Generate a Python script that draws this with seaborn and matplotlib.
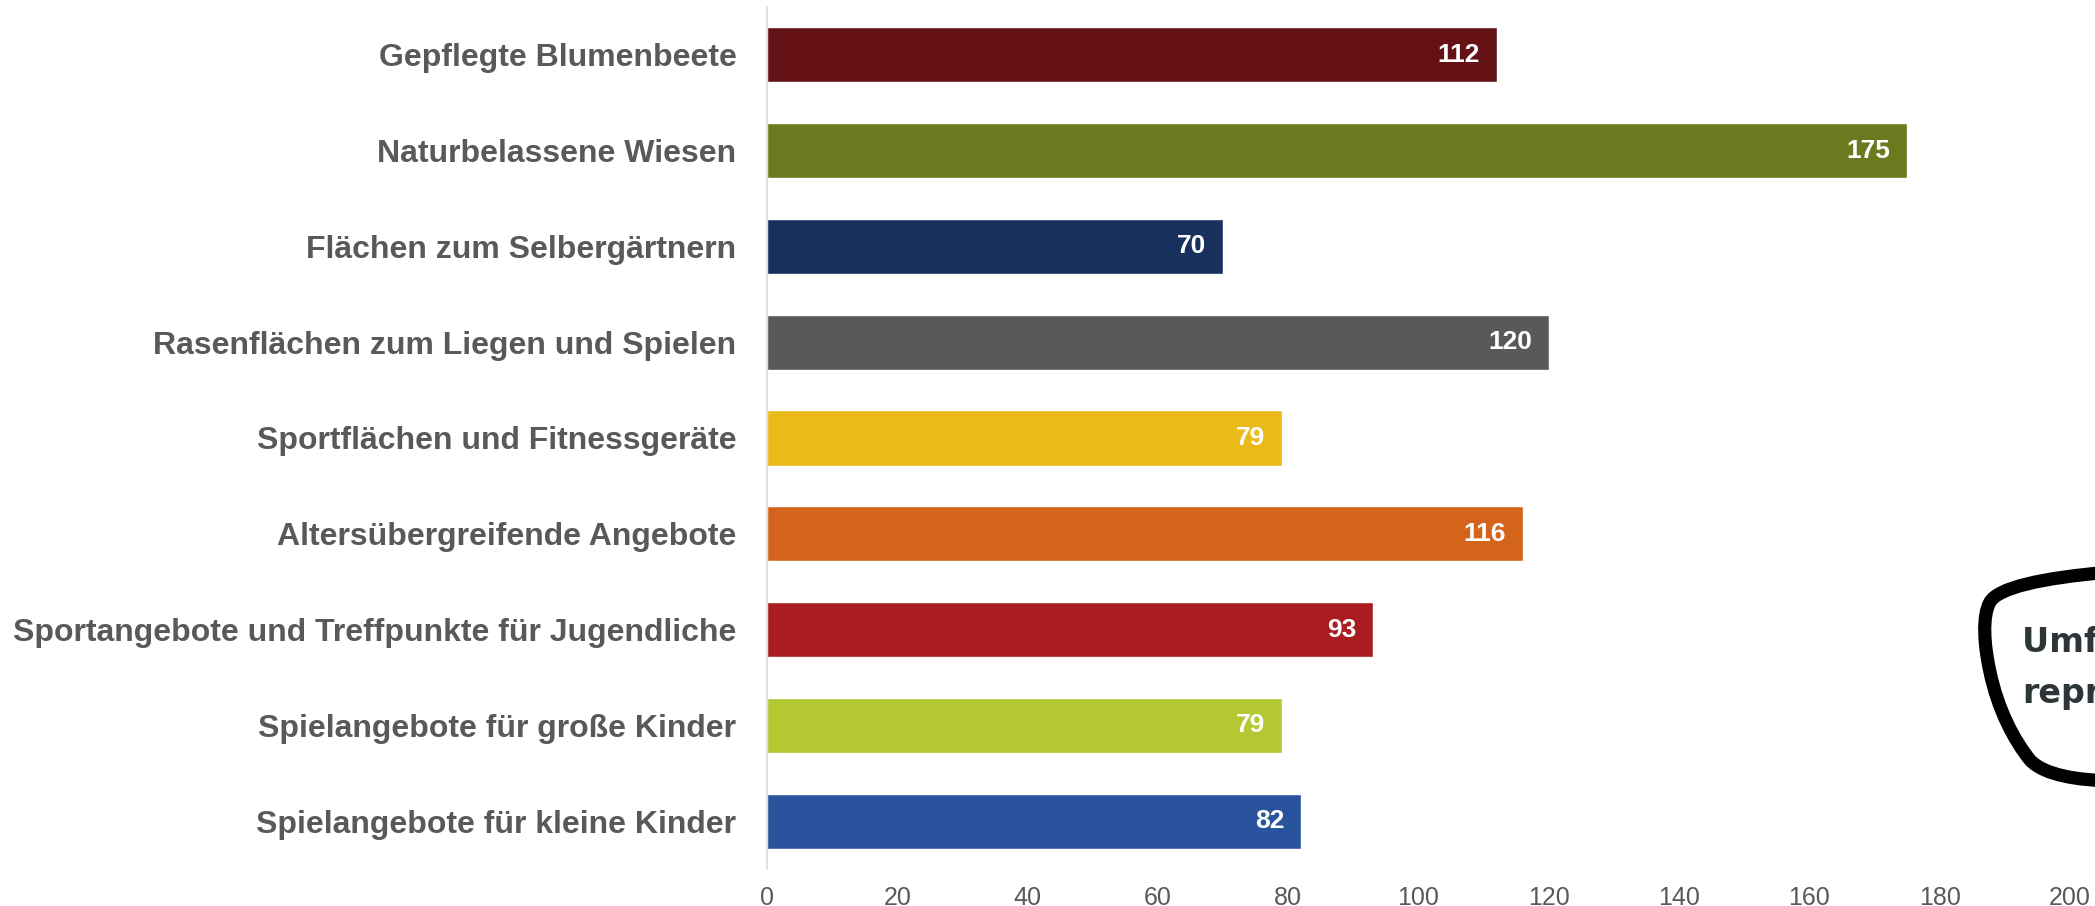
import matplotlib
matplotlib.use("Agg")
import matplotlib.pyplot as plt
from matplotlib.path import Path
from matplotlib.patches import PathPatch
import seaborn as sns
import pandas as pd

categories = [
    "Gepflegte Blumenbeete",
    "Naturbelassene Wiesen",
    "Flächen zum Selbergärtnern",
    "Rasenflächen zum Liegen und Spielen",
    "Sportflächen und Fitnessgeräte",
    "Altersübergreifende Angebote",
    "Sportangebote und Treffpunkte für Jugendliche",
    "Spielangebote für große Kinder",
    "Spielangebote für kleine Kinder",
]
values = [112, 175, 70, 120, 79, 116, 93, 79, 82]
colors = [
    "#651216", "#6b7a1f", "#17305e", "#595959", "#ebb91a",
    "#d4631c", "#a91c22", "#b3c831", "#29539c",
]
x_ticks = [0, 20, 40, 60, 80, 100, 120, 140, 160, 180, 200]

sns.set_theme(style="white")
plt.rcParams["font.family"] = ["Liberation Sans", "DejaVu Sans"]

df = pd.DataFrame({"Kategorie": categories, "Anzahl": values})

W, H = 2095, 906
fig = plt.figure(figsize=(W / 100, H / 100), dpi=100)
ax = fig.add_axes([767 / W, 1 - 869 / H, (2070 - 767) / W, (869 - 7) / H])

sns.barplot(data=df, x="Anzahl", y="Kategorie", hue="Kategorie",
            palette=colors, legend=False, width=0.575, saturation=1,
            orient="h", ax=ax)

for i, v in enumerate(values):
    ax.annotate(str(v), (v, i), xytext=(-12, 0), textcoords="offset points",
                ha="right", va="center", color="white",
                fontsize=19, fontweight="bold")

ax.set_xlim(0, 200)
ax.set_xticks(x_ticks)
ax.set_xticklabels([str(t) for t in x_ticks])
ax.set_ylim(len(categories) - 0.5, -0.5)
ax.set_xlabel("")
ax.set_ylabel("")
for side in ("top", "right", "bottom"):
    ax.spines[side].set_visible(False)
ax.spines["left"].set_color("#d9d9d9")
ax.spines["left"].set_linewidth(1.2)
ax.tick_params(axis="both", length=0)
ax.tick_params(axis="x", labelsize=18, labelcolor="#595959", pad=12)
ax.tick_params(axis="y", labelsize=23, labelcolor="#595959", pad=22)
for lbl in ax.get_yticklabels():
    lbl.set_fontweight("bold")
ax.grid(False)

# speech bubble running off the right edge
def px(x, y):
    return (x / W, 1 - y / H)

verts = [
    px(2110, 572),
    px(2040, 578), px(1998, 588), px(1990, 602),
    px(1982, 616), px(1984, 645), px(1990, 672),
    px(1998, 710), px(2014, 740), px(2030, 760),
    px(2045, 776), px(2080, 780), px(2110, 781),
]
codes = [Path.MOVETO] + [Path.CURVE4] * 12
bubble = PathPatch(Path(verts, codes), transform=fig.transFigure,
                   facecolor="white", edgecolor="black", linewidth=9.5,
                   capstyle="round", joinstyle="round", clip_on=False)
fig.add_artist(bubble)

fig.text(2022 / W, 1 - 652 / H, "Umfrage nicht", fontsize=24,
         fontweight="bold", color="#2d3538", va="baseline", ha="left",
         family=["DejaVu Sans"])
fig.text(2022 / W, 1 - 703 / H, "repräsentativ", fontsize=24,
         fontweight="bold", color="#2d3538", va="baseline", ha="left",
         family=["DejaVu Sans"])

fig.savefig("out.png", dpi=100, facecolor="white")
